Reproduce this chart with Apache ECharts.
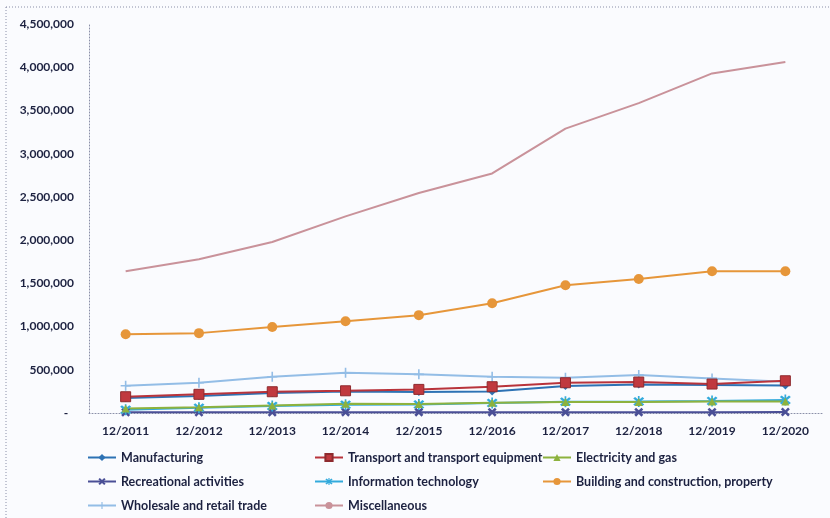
<!DOCTYPE html>
<html>
<head>
<meta charset="utf-8">
<script src="https://cdn.jsdelivr.net/npm/echarts@6/dist/echarts.min.js"></script>
<style>
  html, body { margin: 0; padding: 0; background: #fafbfe; }
  #chart { width: 830px; height: 518px; }
</style>
</head>
<body>
<div id="chart"></div>
<script>
const years = ['12/2011', '12/2012', '12/2013', '12/2014', '12/2015', '12/2016', '12/2017', '12/2018', '12/2019', '12/2020']

const manufacturing = [173000, 196000, 231000, 248000, 242000, 250000, 312000, 329000, 323000, 318000]
const transport = [188000, 216000, 246000, 257000, 273000, 304000, 350000, 358000, 335000, 373000]
const electricity = [52000, 66000, 86000, 108000, 104000, 120000, 126000, 128000, 132000, 132000]
const recreational = [8000, 9000, 9000, 10000, 10000, 10000, 10000, 10000, 10000, 11000]
const infoTech = [38000, 60000, 80000, 96000, 98000, 117000, 131000, 133000, 140000, 150000]
const building = [912000, 924000, 995000, 1062000, 1132000, 1270000, 1478000, 1550000, 1640000, 1640000]
const wholesale = [315000, 350000, 419000, 465000, 447000, 419000, 408000, 439000, 400000, 361000]
const misc = [1640000, 1778000, 1978000, 2275000, 2545000, 2771000, 3290000, 3585000, 3928000, 4060000]

const xPath = 'path://M2,0L5,3L8,0L10,2L7,5L10,8L8,10L5,7L2,10L0,8L3,5L0,2Z'
const plusPath = 'path://M4.2,0H5.8V4.2H10V5.8H5.8V10H4.2V5.8H0V4.2H4.2Z'
const starPath = 'path://M2,1L5,4L8,1L9.5,2.5L6.5,5.5L9.5,8.5L8,10L5,7L2,10L0.5,8.5L3.5,5.5L0.5,2.5Z M4.3,0H5.7V11H4.3Z'

const textColor = '#1c2140'
const font = 'Lato, "Open Sans", sans-serif'

function line(name, data, color, symbol, size, extra) {
	return Object.assign({
		name: name,
		type: 'line',
		data: data,
		symbol: symbol,
		symbolSize: size,
		lineStyle: { color: color, width: 2 },
		itemStyle: { color: color },
		emphasis: { disabled: true }
	}, extra || {})
}

const legendBase = {
	orient: 'vertical',
	top: 451,
	padding: 0,
	itemWidth: 28,
	itemHeight: 9,
	itemGap: 11,
	textStyle: { color: textColor, fontFamily: font, fontWeight: 'bold', fontSize: 12.5 }
}

const myChart = echarts.init(document.getElementById('chart'))

const option = {
	backgroundColor: '#fafbfe',
	animation: false,
	graphic: [{
		type: 'rect',
		shape: { x: 6, y: 7, width: 840, height: 530 },
		style: { fill: 'none', stroke: '#8a8fa8', lineWidth: 1, lineDash: [1, 2] },
		silent: true
	}],
	grid: { left: 89, right: 8, top: 24, bottom: 105 },
	legend: [
		Object.assign({ left: 87, data: ['Manufacturing', 'Recreational activities', 'Wholesale and retail trade'] }, legendBase),
		Object.assign({ left: 314, data: ['Transport and transport equipment', 'Information technology', 'Miscellaneous'] }, legendBase),
		Object.assign({ left: 542, data: ['Electricity and gas', 'Building and construction, property'] }, legendBase)
	],
	xAxis: {
		type: 'category',
		data: years,
		boundaryGap: true,
		axisLine: { lineStyle: { color: '#8a8fa8', type: [1, 2] } },
		axisTick: { show: false },
		axisLabel: { color: textColor, fontFamily: font, fontWeight: 'bold', fontSize: 12, margin: 12 }
	},
	yAxis: {
		type: 'value',
		min: 0,
		max: 4500000,
		interval: 500000,
		axisLine: { show: true, lineStyle: { color: '#8a8fa8', type: [1, 2] } },
		axisTick: { show: false },
		splitLine: { show: false },
		axisLabel: {
			color: textColor, fontFamily: font, fontWeight: 'bold', fontSize: 12, margin: 15,
			formatter: function (v) { return v === 0 ? '-  ' : v.toLocaleString('en-US') }
		}
	},
	series: [
		line('Miscellaneous', misc, '#c9929a', 'none', 0),
		line('Building and construction, property', building, '#e6963a', 'circle', 10),
		line('Wholesale and retail trade', wholesale, '#93bde6', plusPath, 10),
		line('Recreational activities', recreational, '#4a4f96', xPath, 9),
		line('Information technology', infoTech, '#33aadc', starPath, 11),
		line('Electricity and gas', electricity, '#8db23e', 'triangle', 8),
		line('Manufacturing', manufacturing, '#2d72b4', 'diamond', 8),
		line('Transport and transport equipment', transport, '#b8333b', 'rect', 10, {
			itemStyle: { color: '#c0393f', borderColor: '#8e2a2e', borderWidth: 1 }
		})
	]
}

option && myChart.setOption(option)
</script>
</body>
</html>
